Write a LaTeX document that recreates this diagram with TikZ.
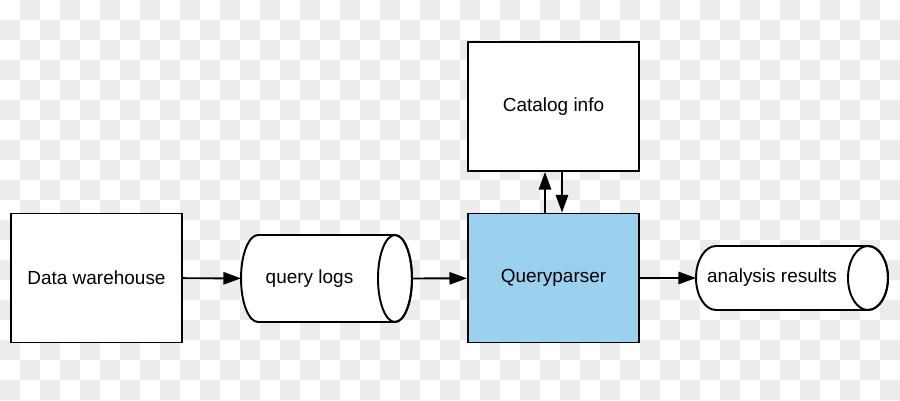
\documentclass[tikz,border=0pt]{standalone}
\usepackage{fontspec}
\setmainfont{Liberation Sans}
\usetikzlibrary{arrows.meta}

\definecolor{checkgray}{HTML}{ECECEC}
\definecolor{parserblue}{HTML}{9BD1EF}

\begin{document}
\begin{tikzpicture}[x=0.02cm,y=-0.02cm,line width=1.1pt,
    font=\fontsize{10.8}{13}\selectfont]
        \tikzstyle{box}=[rectangle,draw=black,fill=white,minimum width=3.42cm,minimum height=2.58cm,inner sep=0pt]
        \tikzstyle{store}=[rectangle,inner sep=0pt,outer sep=0pt]
        \tikzstyle{arr}=[-{Triangle[length=10pt,width=7pt]}]
        \useasboundingbox (0,0) rectangle (900,400);
        % checkered background
        \foreach \i in {0,...,44}{
            \foreach \j in {0,...,19}{
                \pgfmathtruncatemacro{\odd}{mod(\i+\j,2)}
                \ifnum\odd=1 \fill[checkgray] (\i*20,\j*20) rectangle ++(20,20); \fi
            }
        }
        \node[box] (dw) at (96.5,278) {Data warehouse};
        \node[box,fill=parserblue] (qp) at (553.5,278) {Queryparser};
        \node[box] (cat) at (553.5,106.5) {Catalog info};
        % the two stores: body node, then the drum drawn round it
        \node[store,minimum width=2.74cm,minimum height=1.74cm] (logs) at (309.5,278.5) {};
        \node[store,minimum width=3.04cm,minimum height=1.28cm] (res) at (772,278) {};
        \foreach \n/\rx/\ry in {logs/0.34cm/0.87cm, res/0.4cm/0.64cm}{
            \draw[fill=white] ([xshift=\rx]\n.north west) -- ([xshift=\rx]\n.north east)
                arc[start angle=90,end angle=-90,x radius=\rx,y radius=\ry]
                -- ([xshift=\rx]\n.south west)
                arc[start angle=270,end angle=90,x radius=\rx,y radius=\ry] -- cycle;
            \draw ([xshift=\rx]\n.east) ellipse[x radius=\rx,y radius=\ry];
        }
        \node at (logs) {query logs};
        \node at (res) {analysis results};
        \coordinate (logs-out) at ([xshift=0.68cm]logs.east);
        \draw[arr] (dw) -- (logs);
        \draw[arr] (logs-out) -- (qp);
        \draw[arr] (qp) -- (res);
        \draw[arr] ([xshift=-0.17cm]qp.north) -- ([xshift=-0.17cm]cat.south);
        \draw[arr] ([xshift=0.17cm]cat.south) -- ([xshift=0.17cm]qp.north);
    \end{tikzpicture}
\end{document}
